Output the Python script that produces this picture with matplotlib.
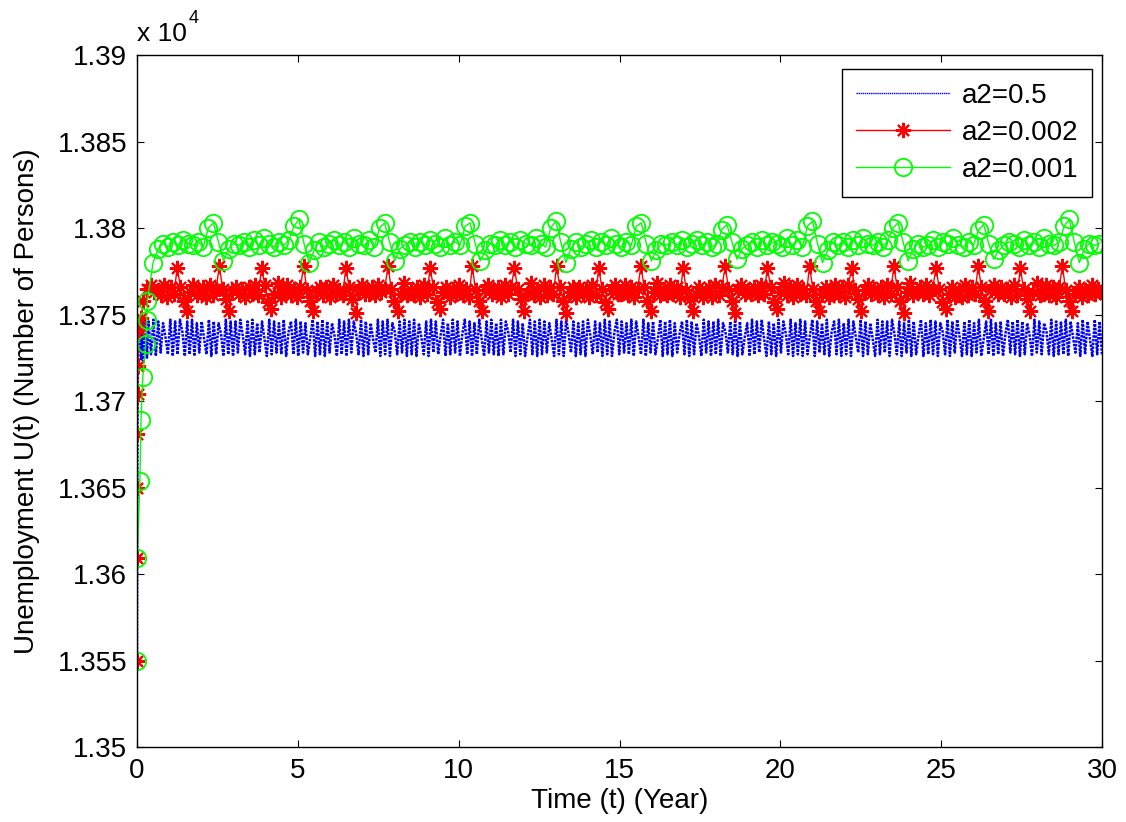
import numpy as np
import matplotlib
matplotlib.use("Agg")
import matplotlib.pyplot as plt

plt.rcParams['font.family'] = ['Liberation Sans', 'DejaVu Sans']

# values are persons above 13700 (U = 13700 + value)
BASE = 13700

# --- a2 = 0.5 (blue, dotted) ---
t_blue_start = [0, 0.004, 0.009, 0.016, 0.025, 0.04, 0.06, 0.09, 0.13, 0.17, 0.21, 0.26, 0.31]
u_blue_start = [-150, -91, -48, -14, 10, 28, 41, 47, 24, 46, 23, 47, 25]
u_blue = [
    46, 27, 47, 26, 46, 28, 45, 37, 27, 47, 26, 46, 27, 47, 40, 26, 46, 27,
    47, 26, 45, 28, 46, 36, 27, 47, 26, 46, 27, 45, 39, 26, 47, 27, 46, 26,
    46, 28, 47, 38, 27, 46, 26, 47, 27, 45, 28, 46, 36, 26, 47, 27, 46, 28,
    45, 27, 47, 26, 40, 46, 27, 47, 26, 46, 28, 45, 27, 37, 47, 26, 46, 27,
    47, 26, 46, 28, 45, 38, 26, 47, 27, 46, 26, 47, 28, 46, 39, 27, 47, 26,
    46, 27, 45, 36, 28, 47, 26, 46, 27, 47, 26, 45, 40, 27, 46, 28, 47, 26,
    46, 27, 47, 26, 45, 37, 27, 46, 26, 47, 28, 46, 27, 38, 47, 26, 45, 27,
    47, 28, 46, 26, 39, 47, 27, 46, 26, 45, 27, 47, 36, 26, 46, 28, 47, 27,
    45, 26, 47, 27, 46, 40, 28, 47, 26, 46, 27, 45, 26, 37, 47, 27, 46, 26,
    47, 27, 46, 28, 45, 36, 26, 47, 27, 46, 26, 47, 39, 28, 46, 26, 45, 27,
    46, 26, 47, 38, 27, 46, 28, 45, 26, 47, 27, 46, 26, 40, 47, 27, 46, 28,
    45, 27, 47, 26, 46, 37, 27, 47, 26, 45, 28, 46, 27, 36, 47, 26, 46, 27,
    47, 26, 45, 28, 39, 46, 27, 47, 26, 46, 27, 45, 38, 26, 47, 28, 46, 26,
    46, 27, 47, 26, 45, 40, 28, 46, 27, 47, 26, 46, 27, 37, 45, 26, 47, 27,
    46, 28, 47, 36, 26, 46, 27, 45, 26, 47, 28, 46, 39, 27, 47, 26, 45, 27,
    47, 26, 46, 27, 38, 47, 26, 46, 28, 45, 27, 47, 26, 40, 46, 27, 47, 26,
    45, 27, 47, 26, 46, 37, 28, 47, 26, 46, 27, 45, 36, 26, 47, 27, 46, 28,
    46, 26, 47, 39, 27, 46, 26, 45, 28, 47, 26, 46, 27, 38, 47, 26, 45, 27,
    47, 27, 46, 26, 45, 40, 27, 47, 26, 46, 28, 47, 37, 26, 46, 27, 47, 26,
    45, 28, 47, 26, 36, 46, 27, 47, 26, 45, 27, 46, 26, 39, 47, 28, 46, 27,
    47, 26, 46, 27, 45, 38, 26, 47, 28, 46, 27, 45, 40, 27, 47, 26, 46, 27,
    46, 27, 47, 26, 46, 37, 28, 45, 26, 47, 27, 46, 36, 26, 47, 27, 46, 27,
]

# --- a2 = 0.002 (red, stars) ---
t_red_start = [0, 0.002, 0.006, 0.012, 0.02, 0.03, 0.05, 0.12, 0.2, 0.3, 0.42, 0.54]
u_red_start = [-150, -91, -50, -19, 4, 20, 41, 48, 58, 65, 67, 63]
u_red = [
    64, 61, 67, 60, 66, 62, 77, 66, 58, 52, 63, 67, 61,
    63, 66, 60, 67, 61, 65, 78, 65, 59, 52, 64, 66, 62,
    65, 60, 66, 62, 67, 61, 77, 67, 57, 53, 62, 68, 60,
    63, 67, 61, 65, 60, 66, 78, 64, 58, 52, 63, 66, 61,
    66, 60, 67, 62, 64, 61, 77, 66, 59, 51, 64, 67, 62,
    62, 66, 61, 67, 63, 65, 78, 65, 58, 52, 62, 68, 61,
    64, 61, 66, 60, 67, 62, 77, 66, 57, 53, 63, 66, 60,
    65, 62, 67, 61, 65, 60, 78, 64, 58, 52, 64, 67, 62,
    63, 66, 60, 67, 62, 66, 77, 65, 59, 52, 62, 68, 61,
    64, 60, 67, 61, 66, 62, 78, 66, 58, 51, 63, 66, 60,
    66, 62, 65, 60, 67, 61, 77, 65, 57, 53, 64, 67, 62,
    62, 67, 61, 66, 60, 65, 78, 66, 58, 52, 63, 68, 61,
    65, 61, 67, 62, 66, 60, 77, 64, 59, 52, 62, 66, 60,
    63, 66, 60, 67, 61, 66, 78, 65, 58, 51, 64, 67, 62,
    64, 62, 66, 61, 67, 62, 77, 66, 57, 53, 63, 68, 61,
    66, 60, 67, 62, 65, 61, 78, 65, 58, 52, 62, 66, 60,
    62, 67, 61, 66, 60, 67, 77, 64, 59, 52, 64, 67, 62,
    65, 61, 66, 60, 67, 62, 78, 66, 58, 51, 63, 68, 61,
    63, 66, 62, 67, 61, 65, 77, 65, 57, 53, 62, 66, 60,
    64, 60, 67, 61, 66, 62, 78, 66, 58, 52, 64, 67, 62,
    66, 62, 65, 60, 67, 61, 77, 65, 59, 52, 63, 68, 61,
    62, 67, 61, 66, 60, 66, 78, 64, 58, 52, 62, 66, 60,
    64, 61, 67, 62, 65, 63,
]

# --- a2 = 0.001 (green, circles) ---
t_green_start = [0, 0.01, 0.09, 0.125, 0.18, 0.27, 0.3, 0.32, 0.5]
u_green_start = [-150, -91, -46, -11, 14, 33, 47, 58, 80]
u_green = [
    88, 91, 89, 92, 90, 93, 91, 90, 92, 89, 100, 103, 92, 81, 88, 91, 90,
    92, 89, 93, 90, 94, 91, 89, 92, 90, 93, 101, 105, 91, 80, 87, 92, 89,
    91, 93, 90, 92, 89, 94, 91, 90, 93, 89, 100, 103, 92, 81, 88, 90, 92,
    89, 92, 90, 93, 91, 89, 94, 90, 92, 90, 101, 103, 91, 81, 87, 91, 90,
    93, 90, 92, 89, 93, 91, 90, 94, 91, 89, 100, 104, 92, 80, 88, 92, 89,
    91, 93, 89, 92, 90, 94, 91, 89, 92, 90, 101, 103, 91, 81, 87, 91, 90,
    92, 90, 93, 89, 91, 93, 90, 92, 89, 91, 99, 102, 92, 82, 88, 90, 92,
    89, 93, 90, 92, 91, 89, 94, 90, 93, 89, 101, 104, 91, 80, 87, 92, 90,
    92, 89, 93, 90, 94, 91, 90, 92, 89, 93, 100, 103, 92, 81, 88, 91, 89,
    90, 93, 89, 92, 91, 94, 90, 89, 92, 90, 99, 102, 91, 82, 87, 90, 92,
    91, 89, 93, 90, 92, 89, 94, 91, 90, 92, 101, 105, 92, 80, 88, 91, 90,
    91,
]

y_ticks = [1.35, 1.355, 1.36, 1.365, 1.37, 1.375, 1.38, 1.385, 1.39]
y_tick_labels = ["1.35", "1.355", "1.36", "1.365", "1.37", "1.375", "1.38", "1.385", "1.39"]
x_ticks = [0, 5, 10, 15, 20, 25, 30]


def series(t_start, u_start, u_rest, t0, t1):
    t = np.concatenate([t_start, np.linspace(t0, t1, len(u_rest))])
    u = (BASE + np.array(u_start + u_rest)) / 1e4
    return t, u


t_b, y_b = series(t_blue_start, u_blue_start, u_blue, 0.36, 30.0)
t_r, y_r = series(t_red_start, u_red_start, u_red, 0.645, 29.98)
t_g, y_g = series(t_green_start, u_green_start, u_green, 0.6535, 29.92)

fig = plt.figure(figsize=(11.26, 8.22), dpi=100)
ax = fig.add_axes([137 / 1126, 75 / 822, 965 / 1126, 692 / 822])

ax.plot(t_b, y_b, color=(0, 0, 1), ls=(0, (1, 0.5)), lw=1.8, label="a2=0.5")
ax.plot(t_r, y_r, color=(1, 0, 0), ls="-", lw=1.0, marker=(8, 2, 0), ms=11,
        mew=1.5, label="a2=0.002")
ax.plot(t_g, y_g, color=(0, 1, 0), ls="-", lw=1.0, marker="o", ms=12.5,
        mfc="none", mew=1.3, label="a2=0.001")

ax.set_xlim(0, 30)
ax.set_ylim(1.35, 1.39)
ax.set_xticks(x_ticks)
ax.set_yticks(y_ticks)
ax.set_yticklabels(y_tick_labels)
ax.tick_params(direction="in", top=True, right=True, length=5, width=0.8,
               labelsize=20)
ax.tick_params(axis="x", pad=8)
ax.tick_params(axis="y", pad=7)
for sp in ax.spines.values():
    sp.set_linewidth(1.0)

ax.set_xlabel("Time (t) (Year)", fontsize=20)
ax.set_ylabel("Unemployment U(t) (Number of Persons)", fontsize=20)
ax.xaxis.set_label_coords(0.5, -0.059)
ax.yaxis.set_label_coords(-0.101, 0.5)

fig.text(137 / 1126, 1 - 41 / 822, "x 10", fontsize=19, ha="left", va="baseline")
fig.text(189 / 1126, 1 - 23 / 822, "4", fontsize=13, ha="left", va="baseline")

leg = ax.legend(loc="upper right", bbox_to_anchor=(0.9896, 0.9798),
                borderaxespad=0, fontsize=20, fancybox=False, framealpha=1,
                edgecolor="black", handlelength=3.4, handletextpad=0.4,
                labelspacing=0.4, borderpad=0.5, numpoints=1)
leg.get_frame().set_linewidth(1.0)
leg.get_lines()[0].set_linewidth(1.0)

fig.savefig("out.png", dpi=100, facecolor="w")
plt.close(fig)
